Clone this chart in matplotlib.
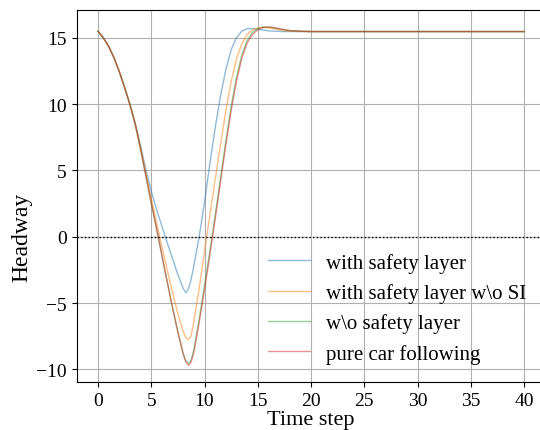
import matplotlib
matplotlib.use("Agg")
import matplotlib.pyplot as plt

plt.rcParams['font.family'] = ['Liberation Serif', 'DejaVu Serif']
plt.rcParams['mathtext.fontset'] = 'stix'

time_step = [0, 0.5, 1, 1.5, 2, 2.5, 3, 3.5, 4, 4.5, 5, 5.5, 6, 6.5, 7, 7.5, 8, 8.25, 8.5, 8.75,
             9, 9.5, 10, 10.5, 11, 11.5, 12, 12.5, 13, 13.5, 14, 14.5, 15, 15.5, 16, 16.5, 17, 17.5,
             18, 19, 20, 25, 30, 35, 40]

with_safety = [15.5, 15.0, 14.35, 13.5, 12.45, 11.25, 10.0, 8.55, 6.85, 5.05, 3.45, 2.05, 0.8, -0.45,
               -1.65, -2.85, -3.9, -4.22, -3.9, -3.2, -2.2, 0.0, 2.6, 5.5, 8.2, 10.6, 12.6, 14.1, 15.0,
               15.5, 15.68, 15.7, 15.65, 15.58, 15.53, 15.5, 15.48, 15.47, 15.47, 15.47, 15.47, 15.47,
               15.47, 15.47, 15.47]

with_safety_no_si = [15.5, 15.0, 14.35, 13.5, 12.45, 11.25, 9.98, 8.5, 6.7, 4.75, 2.9, 1.05, -0.75, -2.5,
                     -4.2, -5.8, -7.15, -7.6, -7.75, -7.45, -6.4, -3.9, -1.1, 1.6, 4.3, 6.9, 9.5, 11.7,
                     13.4, 14.55, 15.25, 15.6, 15.75, 15.8, 15.75, 15.68, 15.6, 15.54, 15.5, 15.48,
                     15.47, 15.47, 15.47, 15.47, 15.47]

without_safety = [15.5, 15.0, 14.35, 13.5, 12.45, 11.25, 9.95, 8.45, 6.6, 4.55, 2.55, 0.6, -1.4, -3.4,
                  -5.35, -7.2, -8.8, -9.35, -9.55, -9.3, -8.5, -6.2, -3.7, -1.1, 1.6, 4.4, 7.2, 9.8,
                  12.0, 13.7, 14.8, 15.4, 15.68, 15.8, 15.8, 15.74, 15.67, 15.6, 15.54, 15.49, 15.47,
                  15.47, 15.47, 15.47, 15.47]

pure_following = [15.5, 15.0, 14.35, 13.5, 12.45, 11.25, 9.95, 8.45, 6.6, 4.55, 2.55, 0.6, -1.4, -3.4,
                  -5.35, -7.2, -8.85, -9.45, -9.7, -9.45, -8.75, -6.5, -4.0, -1.4, 1.3, 4.1, 6.9, 9.5,
                  11.7, 13.45, 14.6, 15.25, 15.6, 15.78, 15.82, 15.78, 15.7, 15.62, 15.55, 15.5, 15.47,
                  15.47, 15.47, 15.47, 15.47]

labels = ["with safety layer", "with safety layer w\\o SI", "w\\o safety layer", "pure car following"]
colors = ["tab:blue", "tab:orange", "tab:green", "tab:red"]

fig = plt.figure(figsize=(5.4, 4.31), dpi=100)
ax = fig.add_axes([76.7 / 540, 47.7 / 431, 468.6 / 540, 372.3 / 431])

for series, lab, col in zip([with_safety, with_safety_no_si, without_safety, pure_following], labels, colors):
    ax.plot(time_step, series, color=col, alpha=0.5, lw=1.0, label=lab)

ax.axhline(0, color='black', linestyle=':', lw=1.0)
ax.grid(True, color='#b0b0b0', lw=0.8)
ax.set_xlabel("Time step", fontsize=16, labelpad=1)
ax.set_ylabel("Headway", fontsize=17)
ax.yaxis.set_label_coords(-0.095, 0.393)
ax.set_xticks([0, 5, 10, 15, 20, 25, 30, 35, 40])
ax.set_yticks([-10, -5, 0, 5, 10, 15])
ax.tick_params(labelsize=14)
ax.legend(loc='lower right', fontsize=15, frameon=False)

fig.savefig("out.png", dpi=100)
